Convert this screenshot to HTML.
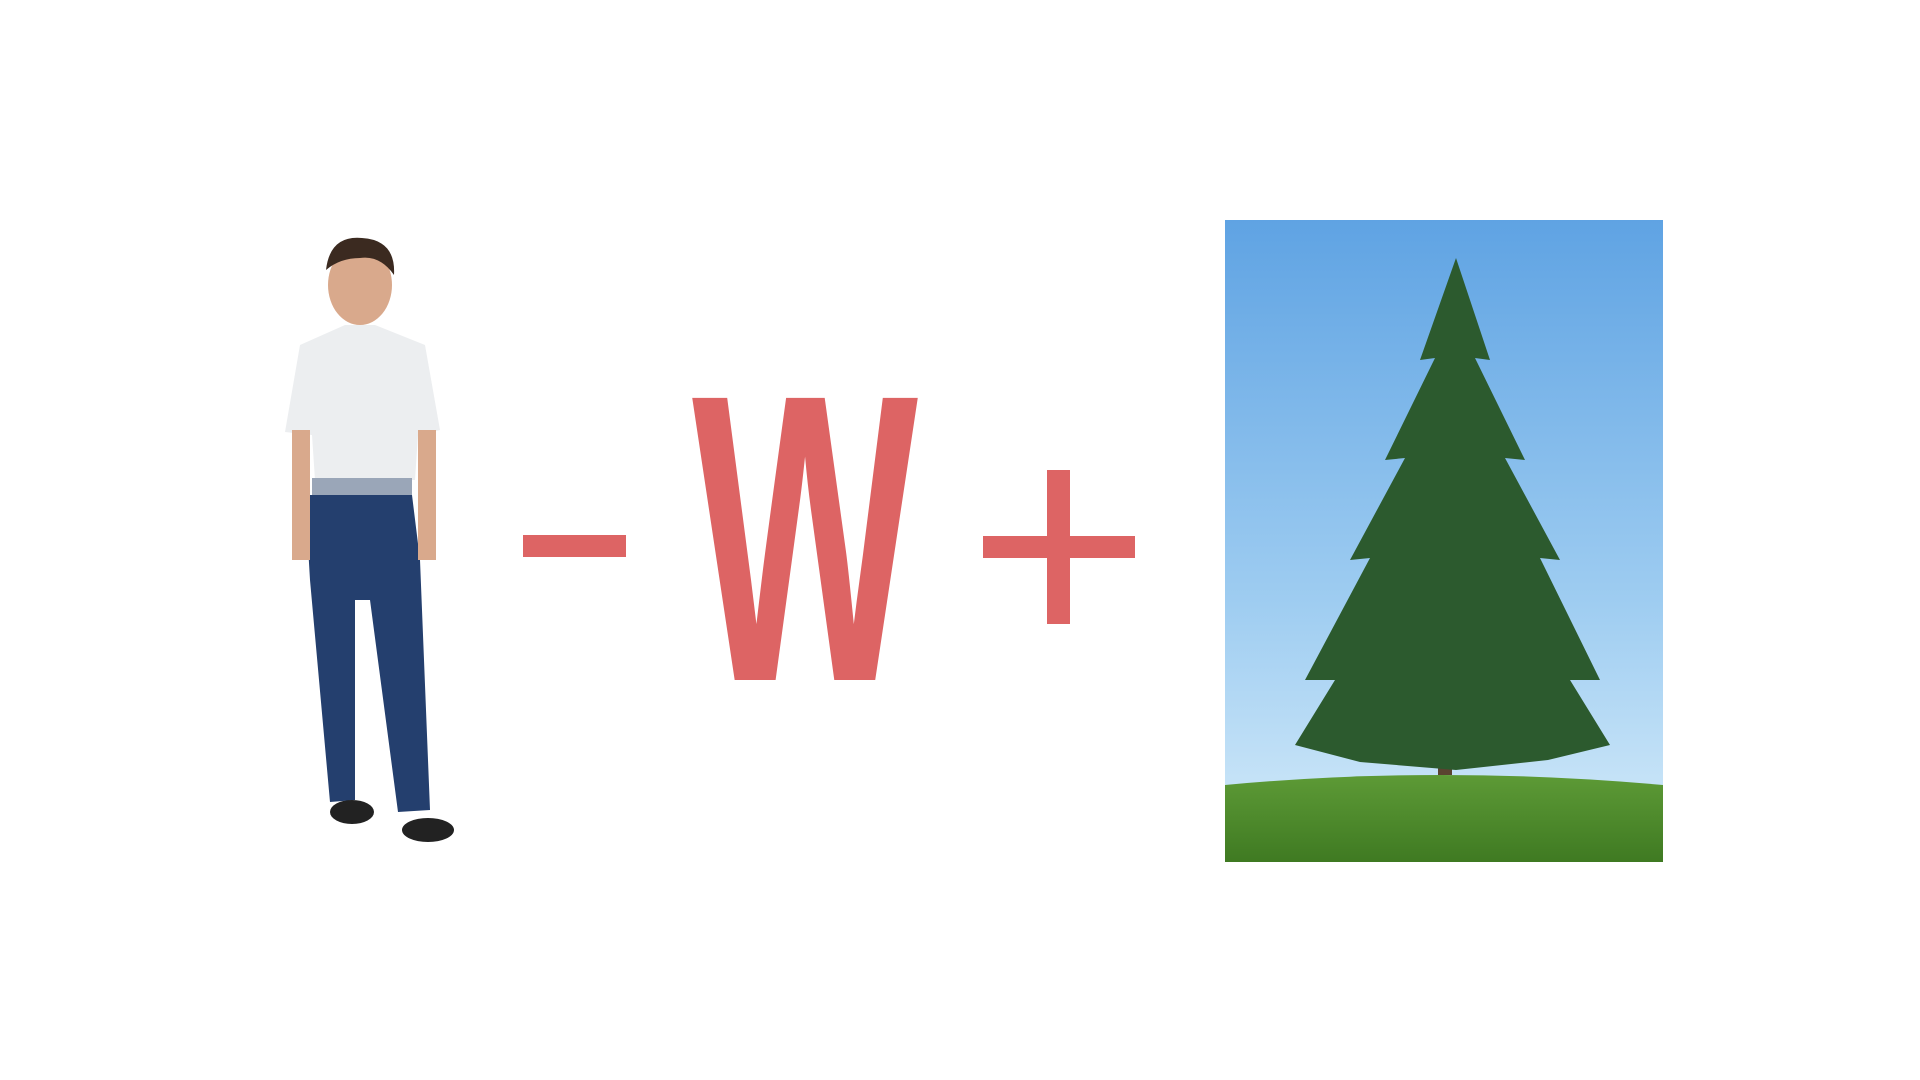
<!DOCTYPE html>
<html><head><meta charset="utf-8"><style>
html,body{margin:0;padding:0;background:#fff;width:1920px;height:1080px;overflow:hidden}
svg{display:block}
</style></head><body>
<svg width="1920" height="1080" viewBox="0 0 1920 1080">
<defs>
<linearGradient id="sky" x1="0" y1="0" x2="0" y2="1">
<stop offset="0" stop-color="#5fa3e3"/><stop offset="0.6" stop-color="#9fcdf1"/><stop offset="1" stop-color="#d6ecfa"/>
</linearGradient>
<linearGradient id="grass" x1="0" y1="0" x2="0" y2="1">
<stop offset="0" stop-color="#5d9a36"/><stop offset="1" stop-color="#3f7a22"/>
</linearGradient>
</defs>
<g>
<ellipse cx="360" cy="285" rx="32" ry="40" fill="#d9a98c"/>
<path d="M326 270 Q330 235 362 238 Q396 240 394 275 Q380 255 360 258 Q340 258 326 270Z" fill="#3b2a20"/>
<path d="M300 345 L345 325 L375 325 L425 345 L440 430 L418 435 L415 480 L315 480 L312 435 L285 432Z" fill="#eceef0"/>
<rect x="312" y="478" width="100" height="18" fill="#9aa6b8"/>
<path d="M305 495 L412 495 L420 560 L430 810 L398 812 L370 600 L355 600 L355 800 L330 802 L310 580Z" fill="#243f6e"/>
<rect x="292" y="430" width="18" height="130" fill="#d9a98c"/>
<rect x="418" y="430" width="18" height="130" fill="#d9a98c"/>
<ellipse cx="352" cy="812" rx="22" ry="12" fill="#222"/>
<ellipse cx="428" cy="830" rx="26" ry="12" fill="#222"/>
</g>
<rect x="523" y="535" width="103" height="22" fill="#dd6464"/>
<text x="692" y="680" font-family="'Liberation Sans',sans-serif" font-weight="bold" font-size="410" fill="#dd6464" textLength="226" lengthAdjust="spacingAndGlyphs">W</text>
<g>
<rect x="983" y="536" width="152" height="22" fill="#dd6464"/>
<rect x="1047" y="470" width="23" height="154" fill="#dd6464"/>
</g>
<g>
<rect x="1225" y="220" width="438" height="642" fill="url(#sky)"/>
<path d="M1225 785 Q1440 765 1663 785 L1663 862 L1225 862Z" fill="url(#grass)"/>
<rect x="1438" y="720" width="14" height="55" fill="#5a4330"/>
<path d="M1456 258 L1490 360 L1475 358 L1525 460 L1505 458 L1560 560 L1540 558 L1600 680 L1570 680 L1610 745 L1548 760 L1456 770 L1360 762 L1295 745 L1335 680 L1305 680 L1370 558 L1350 560 L1405 458 L1385 460 L1435 358 L1420 360Z" fill="#2c5a2e"/>
</g>
</svg>
</body></html>
